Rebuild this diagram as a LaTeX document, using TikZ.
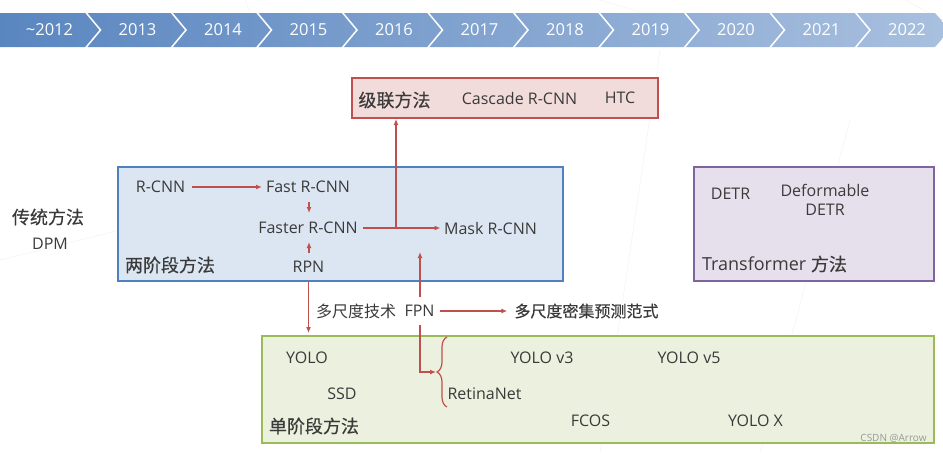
\documentclass[tikz,border=0pt]{standalone}
\usepackage{fontspec}
\setmainfont{Open Sans}
\newfontfamily\cjk{Noto Sans CJK SC}
\newfontfamily\cjkb[FakeBold=0.4]{Noto Sans CJK SC}
\usetikzlibrary{arrows.meta,decorations.pathreplacing,calc}
\definecolor{txt}{HTML}{3A3A3A}
\definecolor{redl}{HTML}{C0504D}
\definecolor{bandA}{HTML}{5A86C0}
\definecolor{bandB}{HTML}{A9C0DF}
\definecolor{redfill}{HTML}{F2DCDB}
\definecolor{bluel}{HTML}{4F81BD}
\definecolor{bluefill}{HTML}{DCE6F2}
\definecolor{purl}{HTML}{8064A2}
\definecolor{purfill}{HTML}{E5E0EC}
\definecolor{grnl}{HTML}{9BBB59}
\definecolor{grnfill}{HTML}{EBF1DE}
\tikzset{
  lbl/.style={inner sep=0pt, text=txt, font=\fontsize{16}{18}\selectfont},
  zh/.style={inner sep=0pt, text=txt, font=\cjk\fontsize{16}{18}\selectfont},
  zhbig/.style={inner sep=0pt, text=txt, font=\cjkb\fontsize{18}{20}\selectfont},
  yr/.style={inner sep=0pt, text=white, font=\fontsize{16.5}{18}\selectfont},
  panel/.style={draw, line width=2pt, inner sep=0pt},
  arr/.style={draw=redl, line width=1.2pt, -{Latex[length=6pt,width=5pt]}},
  ln/.style={draw=redl, line width=1.2pt},
}
\begin{document}
\begin{tikzpicture}[x=1pt,y=-1pt]
\useasboundingbox (0,0) rectangle (943,453);
\fill[white] (0,0) rectangle (943,453);
% faint background lines
\begin{scope}[draw=black!4, line width=0.6pt]
\draw (600,0) -- (640,12);
\draw (905,0) -- (943,20);
\draw (245,0) -- (250,12);
\draw (660,50) -- (600,453);
\draw (850,120) -- (760,453);
\draw (0,260) -- (120,230);
\end{scope}
% timeline band
\shade[left color=bandA, right color=bandB] (0,13) -- (935,13) -- (950,30) -- (935,47) -- (0,47) -- cycle;
\foreach \i in {1,...,10}{
  \draw[white, line width=1.5pt] ({85.5*\i},12) -- ({85.5*\i+15},30) -- ({85.5*\i},48);
}
\node[yr] (y0) at (49.5,30) {\textasciitilde 2012};
\foreach \i/\y in {1/2013,2/2014,3/2015,4/2016,5/2017,6/2018,7/2019,8/2020,9/2021,10/2022}{
  \node[yr] (y\i) at ({85.5*\i+52},30) {\y};
}
% panels
\node[panel, draw=redl, fill=redfill, minimum width=306pt, minimum height=40pt] (casc) at (505,98) {};
\node[panel, draw=bluel, fill=bluefill, minimum width=445pt, minimum height=114pt] (two) at (340.5,224) {};
\node[panel, draw=purl, fill=purfill, minimum width=240pt, minimum height=114pt] (trans) at (814,224) {};
\node[panel, draw=grnl, fill=grnfill, minimum width=672pt, minimum height=107pt] (one) at (598,389.5) {};
% left
\node[zhbig] (trad) at (48,217) {传统方法};
\node[lbl] (dpm) at (50,244) {DPM};
% cascade
\node[zhbig] (cascT) at (394.5,100) {级联方法};
\node[lbl] (cascrcnn) at (519.5,98) {Cascade R-CNN};
\node[lbl] (htc) at (620,98) {HTC};
% two stage
\node[lbl] (rcnn) at (160.5,187) {R-CNN};
\node[lbl] (fast) at (308,187) {Fast R-CNN};
\node[lbl] (faster) at (308,228) {Faster R-CNN};
\node[lbl] (mask) at (490.5,228) {Mask R-CNN};
\node[lbl] (rpn) at (308.5,267) {RPN};
\node[zhbig] (twoT) at (170,265) {两阶段方法};
% transformer
\node[lbl] (detr) at (730.5,194) {DETR};
\node[lbl, align=center, font=\fontsize{16}{19}\selectfont] (ddetr) at (825,200) {Deformable\\DETR};
\node[inner sep=0pt, text=txt, font=\fontsize{18}{20}\selectfont] (transT) at (774.5,264) {Transformer {\cjkb 方法}};
% middle
\node[zh] (multi) at (356,311) {多尺度技术};
\node[lbl] (fpn) at (419.5,311) {FPN};
\node[inner sep=0pt, text=txt, font=\cjkb\fontsize{16}{18}\selectfont] (dense) at (586.5,311) {多尺度密集预测范式};
% one stage
\node[lbl] (yolo) at (307,358) {YOLO};
\node[lbl] (ssd) at (342,394) {SSD};
\node[lbl] (retina) at (484.5,394) {RetinaNet};
\node[lbl] (yolo3) at (542,358) {YOLO v3};
\node[lbl] (yolo5) at (689,358) {YOLO v5};
\node[lbl] (fcos) at (590.5,421) {FCOS};
\node[lbl] (yolox) at (755.5,421) {YOLO X};
\node[zhbig] (oneT) at (314,426) {单阶段方法};
\node[inner sep=0pt, text=black!40, font=\fontsize{10}{11}\selectfont] (wm) at (893.5,438) {CSDN @Arrow};
% connectors
\draw[arr] ($(rcnn)+(31,0)$) -- ($(fast)+(-46,0)$);
\draw[arr] ($(fast)+(1,15)$) -- ($(faster)+(1,-15)$);
\draw[arr] ($(rpn)+(0.5,-14)$) -- ($(faster)+(1,14)$);
\draw[arr] ($(faster)+(55,0)$) -- ($(mask)+(-50,0)$);
\coordinate (br) at (396,228);
\draw[arr] (br) -- (br |- casc.south);
\draw[arr] ($(fpn)+(0.5,-14)$) -- ($(fpn)+(0.5,-59)$);
\coordinate (bt) at (437,372);
\draw[arr] ($(fpn)+(0.5,14)$) |- ($(bt)+(-1,0)$);
\draw[arr] ($(fpn)+(20,0)$) -- ($(dense.west)+(-7,0)$);
\draw[arr] (rpn |- two.south) -- ($(rpn |- one.north)+(0,-2)$);
\draw[ln, decorate, decoration={brace, amplitude=10pt}] (447,407) -- (447,337);
\end{tikzpicture}
\end{document}
